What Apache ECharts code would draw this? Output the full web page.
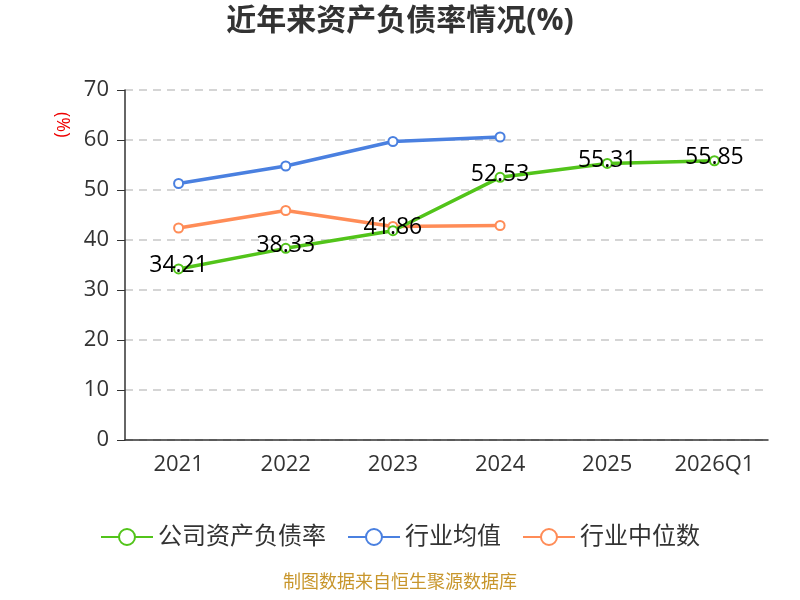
<!DOCTYPE html>
<html>
<head>
<meta charset="utf-8">
<script src="https://cdn.jsdelivr.net/npm/echarts@6/dist/echarts.min.js"></script>
<style>
  html, body { margin: 0; padding: 0; background: #fff; }
  #chart { width: 800px; height: 600px; }
</style>
</head>
<body>
<div id="chart"></div>
<script>
const years = ['2021', '2022', '2023', '2024', '2025', '2026Q1'];
const companyRatio = [34.21, 38.33, 41.86, 52.53, 55.31, 55.85];
const industryMean = [51.3, 54.8, 59.7, 60.6, null, null];
const industryMedian = [42.4, 45.9, 42.7, 42.9, null, null];

const chartDom = document.getElementById('chart');
const myChart = echarts.init(chartDom);
const font = '"Open Sans", "Noto Sans CJK SC", sans-serif';

const option = {
    textStyle: { fontFamily: font },
    title: {
        text: '近年来资产负债率情况(%)',
        left: 'center',
        top: 1,
        textStyle: { fontSize: 30, fontWeight: 'bold', color: '#333', fontFamily: font }
    },
    legend: {
        bottom: 46,
        itemWidth: 52,
        itemHeight: 20,
        itemGap: 21,
        textStyle: { fontSize: 24, color: '#333', fontFamily: font },
        data: ['公司资产负债率', '行业均值', '行业中位数']
    },
    grid: { left: 125, right: 32, top: 90, bottom: 160 },
    graphic: [
        {
            type: 'text',
            left: 53,
            top: 112,
            rotation: -Math.PI / 2,
            style: { text: '(%)', fill: '#e00', fontSize: 18, fontFamily: font }
        },
        {
            type: 'text',
            left: 'center',
            bottom: 8,
            style: { text: '制图数据来自恒生聚源数据库', fill: '#c8962c', fontSize: 18, fontFamily: font }
        }
    ],
    xAxis: {
        type: 'category',
        data: years,
        axisLine: { lineStyle: { color: '#333', width: 1.5 } },
        axisTick: { length: 8, lineStyle: { color: '#333' } },
        axisLabel: { fontSize: 22, color: '#333', margin: 14 }
    },
    yAxis: {
        type: 'value',
        min: 0,
        max: 70,
        interval: 10,
        axisLine: { show: true, lineStyle: { color: '#333', width: 1.5 } },
        axisTick: { show: true, length: 8, lineStyle: { color: '#333' } },
        axisLabel: { fontSize: 22, color: '#333', margin: 16 },
        splitLine: { lineStyle: { type: [8, 6], color: '#c8c8c8', width: 1.5 } }
    },
    series: [
        {
            name: '公司资产负债率',
            type: 'line',
            data: companyRatio,
            symbol: 'emptyCircle',
            symbolSize: 9,
            lineStyle: { width: 3.5 },
            color: '#52c41a',
            z: 5,
            label: {
                show: true,
                position: 'inside',
                offset: [0, -3],
                fontSize: 23,
                color: '#000'
            }
        },
        {
            name: '行业均值',
            type: 'line',
            data: industryMean,
            symbol: 'emptyCircle',
            symbolSize: 9,
            lineStyle: { width: 3.5 },
            color: '#4a80e0'
        },
        {
            name: '行业中位数',
            type: 'line',
            data: industryMedian,
            symbol: 'emptyCircle',
            symbolSize: 9,
            lineStyle: { width: 3.5 },
            color: '#ff8c57'
        }
    ]
};
myChart.setOption(option);
</script>
</body>
</html>
